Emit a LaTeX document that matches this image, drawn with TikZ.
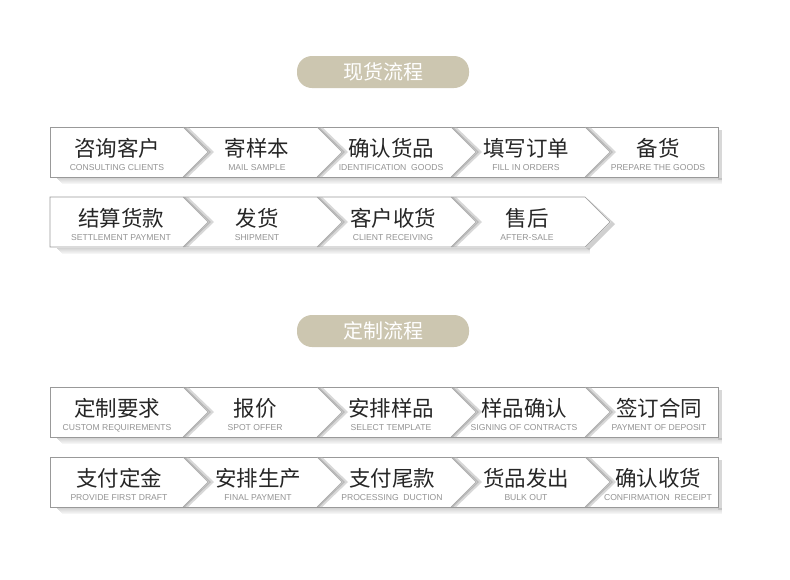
\documentclass[tikz,border=0pt]{standalone}
\usepackage{fontspec}
\setmainfont{Liberation Sans}
\newfontfamily\cjk{Noto Sans CJK SC}
\begin{document}
\begin{tikzpicture}[x=1pt,y=-1pt,
  cn/.style={font=\cjk\fontsize{21.5}{21.5}\selectfont, text=black!85},
  en/.style={font=\fontsize{8.6}{8.6}\selectfont, text=black!42},
  pill/.style={fill=pillc, rounded corners=15pt, minimum width=172pt, minimum height=32pt, text=white, font=\cjk\fontsize{20}{20}\selectfont},
  outl/.style={draw=black!40, line width=0.6pt},
  sep/.style={draw=black!35, line width=0.6pt}]
\definecolor{pillc}{RGB}{204,198,176}
\useasboundingbox (0,0) rectangle (790,579);
\fill[white] (0,0) rectangle (790,579);
\node[pill] (t1) at (383,72) {现货流程};
\node[pill] (t2) at (383,331) {定制流程};
\newcommand{\chev}[2]{\fill[black!30,opacity=0.5] (#1,#2)--(#1+26,#2+25)--(#1,#2+50)--(#1+5,#2+50)--(#1+31,#2+25)--(#1+5,#2)--cycle;
  \fill[black!40,opacity=0.5] (#1,#2)--(#1+26,#2+25)--(#1,#2+50)--(#1+2,#2+50)--(#1+28,#2+25)--(#1+2,#2)--cycle;}
\newcommand{\shad}[2]{\foreach \o in {6,5,4,3,2,1} {\fill[black!\the\numexpr 44-\o*6\relax, opacity=0.45] (56+\o,#1+50+\o) rectangle (#2,#1+50+\o+1);}}
\newcommand{\rowfull}[1]{%
  \shad{#1}{722}
  \fill[black!30, opacity=0.5] (718,#1+3) rectangle (722,#1+53);
  \draw[outl, fill=white] (50,#1) rectangle (718,#1+50);
  \foreach \s in {183,317,451,585} {\chev{\s}{#1} \draw[sep] (\s,#1)--(\s+25,#1+25)--(\s,#1+50);}
}
\newcommand{\rowpart}[1]{%
  \shad{#1}{590}
  \fill[black!30,opacity=0.6] (585,#1)--(611,#1+25)--(585,#1+50)--(589,#1+53)--(615,#1+27)--(589,#1+3)--cycle;
  \draw[outl, fill=white] (50,#1)--(585,#1)--(610,#1+25)--(585,#1+50)--(50,#1+50)--cycle;
  \foreach \s in {183,317,451} {\chev{\s}{#1} \draw[sep] (\s,#1)--(\s+25,#1+25)--(\s,#1+50);}
}
\rowfull{127}
\rowpart{197}
\rowfull{387}
\rowfull{457}
\newcommand{\lab}[5]{\node[cn] (#1c) at (#2,#3+21) {#4}; \node[en] (#1e) at (#2,#3+41) {#5};}
\lab{a1}{117}{127}{咨询客户}{CONSULTING CLIENTS}
\lab{a2}{257}{127}{寄样本}{MAIL SAMPLE}
\lab{a3}{391}{127}{确认货品}{IDENTIFICATION\ \ GOODS}
\lab{a4}{526}{127}{填写订单}{FILL IN ORDERS}
\lab{a5}{658}{127}{备货}{PREPARE THE GOODS}
\lab{b1}{121}{197}{结算货款}{SETTLEMENT PAYMENT}
\lab{b2}{257}{197}{发货}{SHIPMENT}
\lab{b3}{393}{197}{客户收货}{CLIENT RECEIVING}
\lab{b4}{527}{197}{售后}{AFTER-SALE}
\lab{c1}{117}{387}{定制要求}{CUSTOM REQUIREMENTS}
\lab{c2}{255}{387}{报价}{SPOT OFFER}
\lab{c3}{391}{387}{安排样品}{SELECT TEMPLATE}
\lab{c4}{524}{387}{样品确认}{SIGNING OF CONTRACTS}
\lab{c5}{659}{387}{签订合同}{PAYMENT OF DEPOSIT}
\lab{d1}{119}{457}{支付定金}{PROVIDE FIRST DRAFT}
\lab{d2}{258}{457}{安排生产}{FINAL PAYMENT}
\lab{d3}{392}{457}{支付尾款}{PROCESSING\ \ DUCTION}
\lab{d4}{526}{457}{货品发出}{BULK OUT}
\lab{d5}{658}{457}{确认收货}{CONFIRMATION\ \ RECEIPT}
\end{tikzpicture}
\end{document}
